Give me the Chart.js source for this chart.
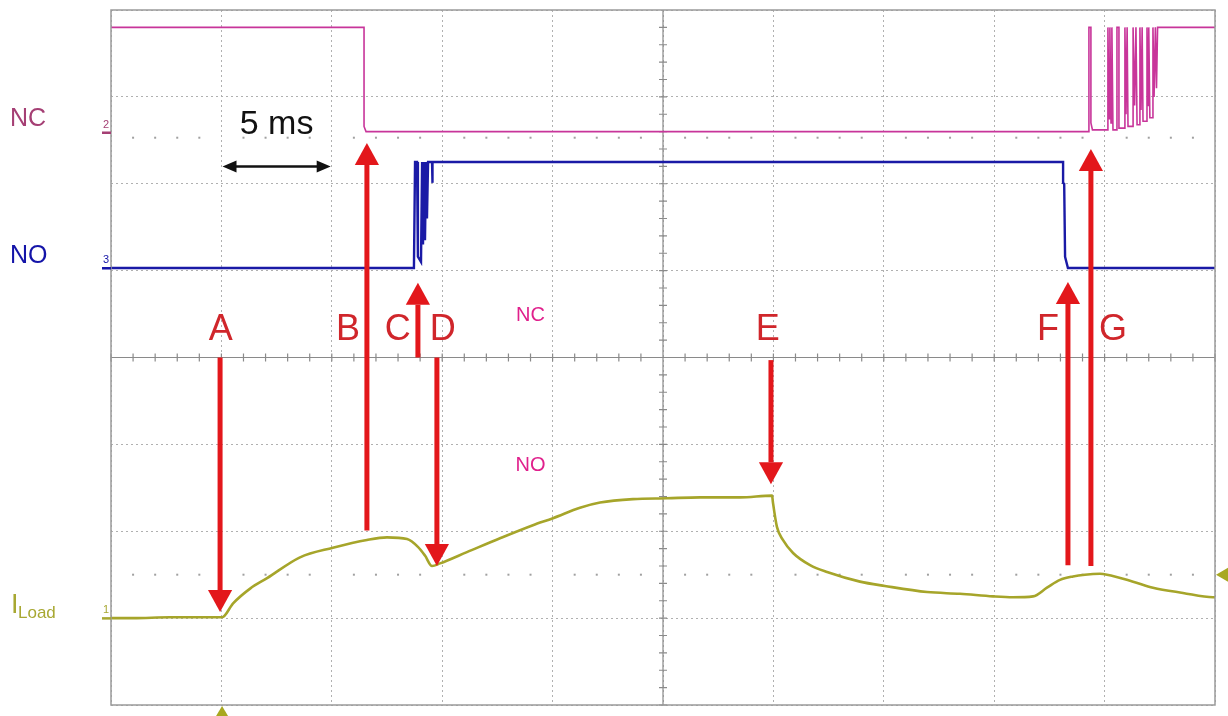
<!DOCTYPE html>
<html>
<head>
<meta charset="utf-8">
<script src="https://cdn.jsdelivr.net/npm/chart.js@4.4.0/dist/chart.umd.min.js"></script>
<style>
  html, body { margin: 0; padding: 0; background: #fff; }
  #wrap { width: 1228px; height: 716px; }
</style>
</head>
<body>
<div id="wrap"><canvas id="scope" width="1228" height="716"></canvas></div>
<script>
// time in ms (5 ms / div, 10 div), level in screen divisions (0..8, bottom = 0)
var ncTime  = [0, 11.46, 11.46, 11.55, 44.29, 44.29, 44.38, 44.38, 44.45, 45.15, 45.15, 45.2, 45.24, 45.29, 45.33, 45.38, 45.56, 45.56, 45.65, 45.65, 45.92, 45.92, 45.97, 46.02, 46.06, 46.29, 46.29, 46.36, 46.42, 46.47, 46.6, 46.6, 46.65, 46.7, 46.74, 46.92, 46.92, 46.97, 47.0, 47.05, 47.19, 47.19, 47.24, 47.3, 47.35, 47.4, 47.46, 50];
var ncLevel = [7.80, 7.80, 6.66, 6.60, 6.60, 7.80, 7.80, 6.70, 6.62, 6.62, 7.80, 6.75, 7.80, 6.70, 7.80, 6.62, 6.62, 7.80, 7.80, 6.64, 6.64, 7.80, 6.80, 7.80, 6.66, 6.66, 7.80, 6.90, 7.80, 6.68, 6.68, 7.80, 6.85, 7.80, 6.72, 6.72, 7.80, 6.90, 7.80, 6.76, 6.76, 7.80, 7.00, 7.80, 7.10, 7.80, 7.80, 7.80];

var noTime  = [0, 13.72, 13.77, 13.86, 13.9, 14.04, 14.09, 14.13, 14.18, 14.22, 14.27, 14.31, 14.36, 14.54, 14.54, 14.58, 43.12, 43.12, 43.17, 43.21, 43.34, 50];
var noLevel = [5.03, 5.03, 6.25, 6.25, 5.16, 5.10, 6.25, 5.30, 6.25, 5.35, 6.25, 5.60, 6.25, 6.25, 6.01, 6.25, 6.25, 6.01, 6.00, 5.16, 5.03, 5.03];

var loadTime  = [0, 1.0, 2.67, 4.06, 5.03, 5.53, 6.30, 7.07, 8.56, 10.05, 11.59, 12.50, 13.41, 13.90, 14.22, 14.54, 14.90, 16.12, 17.62, 19.11, 20.02, 21.24, 22.15, 23.64, 25.18, 26.68, 28.49, 29.94, 29.98, 30.16, 30.43, 30.89, 31.66, 32.43, 33.92, 35.05, 36.96, 38.45, 39.95, 40.85, 41.76, 42.39, 42.98, 43.57, 44.11, 44.79, 45.11, 46.29, 47.19, 48.55, 49.91, 50];
var loadLevel = [1.00, 1.00, 1.01, 1.01, 1.01, 1.17, 1.34, 1.46, 1.70, 1.81, 1.90, 1.93, 1.91, 1.82, 1.72, 1.60, 1.63, 1.76, 1.92, 2.07, 2.15, 2.27, 2.33, 2.37, 2.38, 2.39, 2.39, 2.41, 2.33, 2.05, 1.90, 1.75, 1.61, 1.53, 1.42, 1.37, 1.30, 1.28, 1.25, 1.24, 1.25, 1.35, 1.44, 1.48, 1.50, 1.51, 1.50, 1.42, 1.35, 1.29, 1.24, 1.24];

// event markers: letter, arrow x (ms), arrow start level, arrow tip level, letter x (ms)
var markerLetters = ['A', 'B', 'C', 'D', 'E', 'F', 'G'];
var markerTime    = [4.94, 11.59, 13.90, 14.76, 29.89, 43.34, 44.38];
var markerFrom    = [4.0, 2.01, 4.0, 4.0, 3.97, 1.61, 1.60];
var markerTo      = [1.07, 6.47, 4.86, 1.60, 2.54, 4.87, 6.40];
var letterTime    = [4.97, 10.73, 12.99, 15.03, 29.75, 42.44, 45.38];

function pts(xs, ys) {
    return xs.map(function (x, i) { return { x: x, y: ys[i] }; });
}

function arrow(ctx, x, y1, y2, w, head, color) {
    var dir = y2 > y1 ? 1 : -1;
    ctx.save();
    ctx.strokeStyle = color;
    ctx.fillStyle = color;
    ctx.lineWidth = w;
    ctx.beginPath();
    ctx.moveTo(x, y1);
    ctx.lineTo(x, y2 - dir * head);
    ctx.stroke();
    ctx.beginPath();
    ctx.moveTo(x, y2);
    ctx.lineTo(x - head * 0.55, y2 - dir * head);
    ctx.lineTo(x + head * 0.55, y2 - dir * head);
    ctx.closePath();
    ctx.fill();
    ctx.restore();
}

var scopeDecor = {
    id: 'scopeDecor',
    beforeDatasetsDraw: function (chart) {
        var ctx = chart.ctx, xs = chart.scales.x, ys = chart.scales.y, a = chart.chartArea;
        ctx.save();
        // centre axes with minor ticks
        ctx.strokeStyle = '#8a8a8a';
        ctx.lineWidth = 1.2;
        var cy = ys.getPixelForValue(4), cx = xs.getPixelForValue(25);
        ctx.beginPath();
        ctx.moveTo(a.left, cy); ctx.lineTo(a.right, cy);
        ctx.moveTo(cx, a.top); ctx.lineTo(cx, a.bottom);
        for (var t = 0; t <= 50; t += 1) {
            var px = xs.getPixelForValue(t);
            ctx.moveTo(px, cy - 4); ctx.lineTo(px, cy + 4);
        }
        for (var v = 0; v <= 8; v += 0.2) {
            var py = ys.getPixelForValue(v);
            ctx.moveTo(cx - 4, py); ctx.lineTo(cx + 4, py);
        }
        ctx.stroke();
        // dotted level rows
        ctx.fillStyle = '#a0a0a0';
        [6.53, 1.50].forEach(function (lv) {
            var py = ys.getPixelForValue(lv);
            for (var t = 1; t < 50; t += 1) {
                if (t % 5 === 0) continue;
                ctx.fillRect(xs.getPixelForValue(t) - 1, py - 1, 2, 2);
            }
        });
        ctx.restore();
    },
    afterDatasetsDraw: function (chart) {
        var ctx = chart.ctx, xs = chart.scales.x, ys = chart.scales.y, a = chart.chartArea;
        ctx.save();
        // frame
        ctx.strokeStyle = '#9a9a9a';
        ctx.lineWidth = 1.5;
        ctx.strokeRect(a.left, a.top, a.right - a.left, a.bottom - a.top);

        // red event arrows and letters
        for (var i = 0; i < markerLetters.length; i++) {
            var px = xs.getPixelForValue(markerTime[i]);
            arrow(ctx, px, ys.getPixelForValue(markerFrom[i]), ys.getPixelForValue(markerTo[i]), 5, 22, '#e3171b');
        }
        ctx.fillStyle = '#d0262b';
        ctx.font = '36px "Liberation Sans", Arial, sans-serif';
        ctx.textAlign = 'center';
        ctx.textBaseline = 'middle';
        for (var j = 0; j < markerLetters.length; j++) {
            ctx.fillText(markerLetters[j], xs.getPixelForValue(letterTime[j]), ys.getPixelForValue(4.31));
        }

        // 5 ms span
        ctx.fillStyle = '#111';
        ctx.font = '34px "Liberation Sans", Arial, sans-serif';
        ctx.fillText('5 ms', xs.getPixelForValue(7.5), ys.getPixelForValue(6.68));
        var sy = ys.getPixelForValue(6.2), sx1 = xs.getPixelForValue(5.05), sx2 = xs.getPixelForValue(9.95);
        ctx.strokeStyle = '#111';
        ctx.lineWidth = 2.5;
        ctx.beginPath(); ctx.moveTo(sx1 + 10, sy); ctx.lineTo(sx2 - 10, sy); ctx.stroke();
        ctx.beginPath();
        ctx.moveTo(sx1, sy); ctx.lineTo(sx1 + 14, sy - 6); ctx.lineTo(sx1 + 14, sy + 6); ctx.closePath();
        ctx.moveTo(sx2, sy); ctx.lineTo(sx2 - 14, sy - 6); ctx.lineTo(sx2 - 14, sy + 6); ctx.closePath();
        ctx.fill();

        // magenta labels inside
        ctx.fillStyle = '#e0208c';
        ctx.font = '20px "Liberation Sans", Arial, sans-serif';
        ctx.fillText('NC', xs.getPixelForValue(19.0), ys.getPixelForValue(4.48));
        ctx.fillText('NO', xs.getPixelForValue(19.0), ys.getPixelForValue(2.76));

        // channel labels left
        ctx.textAlign = 'left';
        ctx.font = '25px "Liberation Sans", Arial, sans-serif';
        ctx.fillStyle = '#a53f74';
        ctx.fillText('NC', 10, 119);
        ctx.fillStyle = '#1414a8';
        ctx.fillText('NO', 10, 256);
        ctx.fillStyle = '#a8a832';
        ctx.font = '27px "Liberation Sans", Arial, sans-serif';
        ctx.fillText('I', 11, 606);
        ctx.font = '17px "Liberation Sans", Arial, sans-serif';
        ctx.fillText('Load', 18, 613);

        // channel markers
        ctx.font = '11px "Liberation Sans", Arial, sans-serif';
        var marks = [['2', 6.59, '#a53f74'], ['3', 5.03, '#1414a8'], ['1', 1.0, '#a8a832']];
        marks.forEach(function (m) {
            var py = ys.getPixelForValue(m[1]);
            ctx.fillStyle = m[2];
            ctx.fillText(m[0], 103, py - 8);
            ctx.fillRect(102, py - 1, 9, 2.5);
        });

        // ground / trigger triangles
        ctx.fillStyle = '#a8a820';
        var gx = xs.getPixelForValue(5.03);
        ctx.beginPath();
        ctx.moveTo(gx, a.bottom + 1); ctx.lineTo(gx - 6, a.bottom + 11); ctx.lineTo(gx + 6, a.bottom + 11); ctx.closePath();
        ctx.fill();
        var ty = ys.getPixelForValue(1.50);
        ctx.beginPath();
        ctx.moveTo(a.right + 1, ty); ctx.lineTo(a.right + 13, ty - 7); ctx.lineTo(a.right + 13, ty + 7); ctx.closePath();
        ctx.fill();
        ctx.restore();
    }
};

var chartScope = new Chart(document.getElementById('scope'), {
    type: 'line',
    data: {
        datasets: [{
            label: 'NC',
            data: pts(ncTime, ncLevel),
            borderColor: '#c8359a',
            borderWidth: 1.6,
            pointRadius: 0,
            tension: 0
        }, {
            label: 'NO',
            data: pts(noTime, noLevel),
            borderColor: '#1a1aa6',
            borderWidth: 2.4,
            pointRadius: 0,
            tension: 0
        }, {
            label: 'ILoad',
            data: pts(loadTime, loadLevel),
            borderColor: '#a6a52a',
            borderWidth: 2.6,
            pointRadius: 0,
            cubicInterpolationMode: 'monotone'
        }]
    },
    options: {
        responsive: false,
        animation: false,
        layout: {
            padding: { left: 111, right: 13, top: 10, bottom: 11 }
        },
        plugins: {
            legend: { display: false },
            tooltip: { enabled: false }
        },
        scales: {
            x: {
                type: 'linear',
                min: 0,
                max: 50,
                ticks: { display: false, stepSize: 5 },
                grid: { color: '#b0b0b0', lineWidth: 1, drawTicks: false },
                border: { display: false, dash: [2, 3] }
            },
            y: {
                type: 'linear',
                min: 0,
                max: 8,
                ticks: { display: false, stepSize: 1 },
                grid: { color: '#b0b0b0', lineWidth: 1, drawTicks: false },
                border: { display: false, dash: [2, 3] }
            }
        }
    },
    plugins: [scopeDecor]
});
</script>
</body>
</html>
